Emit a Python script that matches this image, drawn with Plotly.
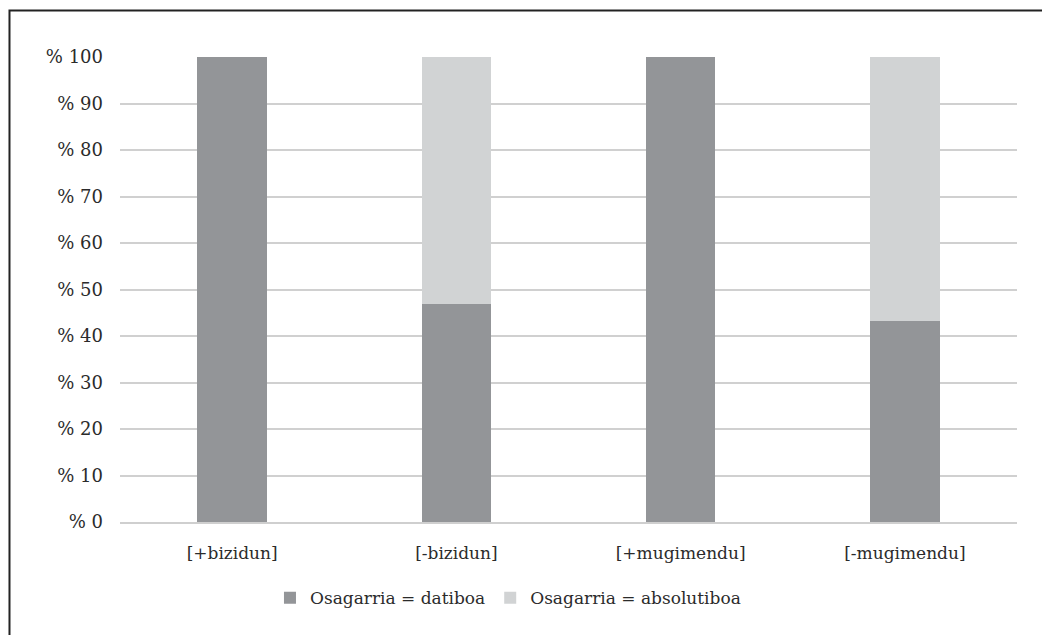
import plotly.graph_objects as go

categories = ["[+bizidun]", "[-bizidun]", "[+mugimendu]", "[-mugimendu]"]
datiboa = [100, 46.9, 100, 43.2]
absolutiboa = [0, 53.1, 0, 56.8]
series_names = ["Osagarria = datiboa", "Osagarria = absolutiboa"]
tick_vals = [0, 10, 20, 30, 40, 50, 60, 70, 80, 90, 100]
tick_text = ["% " + str(v) for v in tick_vals]

FONT = "DejaVu Serif"
TEXT = "#2b2b2b"

fig = go.Figure()
fig.add_trace(go.Bar(x=categories, y=datiboa, name=series_names[0],
                     marker=dict(color="#939598", line=dict(width=0))))
fig.add_trace(go.Bar(x=categories, y=absolutiboa, name=series_names[1],
                     marker=dict(color="#d1d3d4", line=dict(width=0))))

fig.update_layout(
    width=1042, height=635,
    barmode="stack", bargap=0.69,
    paper_bgcolor="white", plot_bgcolor="white",
    margin=dict(l=120, r=25, t=57, b=113),
    font=dict(family=FONT, size=17, color=TEXT),
    showlegend=True,
    legend=dict(orientation="h", xref="container", yref="container",
                x=0.4875, y=0.058, xanchor="center", yanchor="middle",
                font=dict(family=FONT, size=17, color=TEXT), itemwidth=30,
                traceorder="normal", tracegroupgap=0),
    shapes=[dict(type="rect", xref="paper", yref="paper",
                 x0=-0.1232, x1=1.1, y0=-0.4, y1=1.1,
                 line=dict(color="#222222", width=2), layer="below")],
)
fig.update_xaxes(showgrid=False, showline=True, linecolor="#cfcfcf", linewidth=1.5,
                 ticks="", ticklabelstandoff=15, tickfont=dict(family=FONT, size=17))
fig.update_yaxes(range=[0, 100], tickvals=tick_vals, ticktext=tick_text,
                 showgrid=True, gridcolor="#d0d0d0", gridwidth=1.5,
                 zeroline=False, showline=False, ticks="", ticklabelstandoff=16,
                 tickfont=dict(family=FONT, size=18))

fig.write_html("out.html")
